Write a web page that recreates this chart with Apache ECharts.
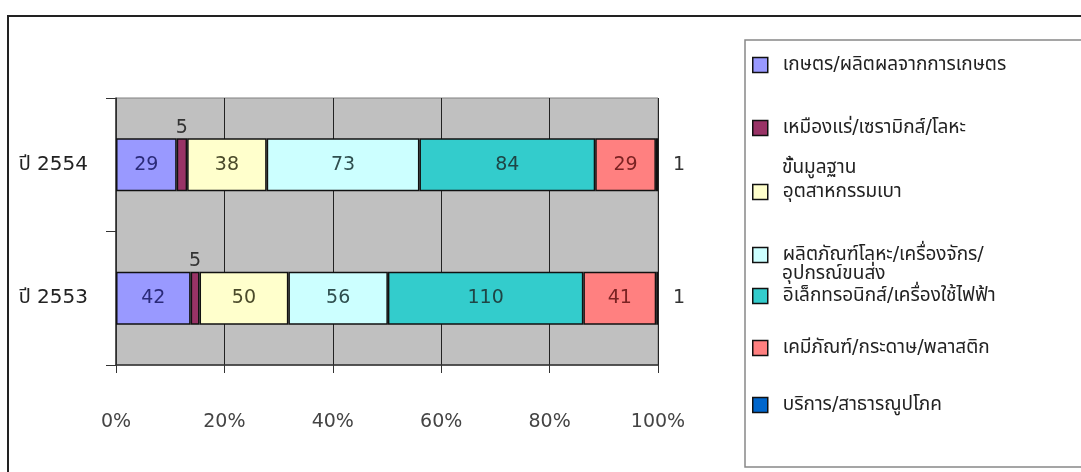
<!DOCTYPE html>
<html>
<head>
<meta charset="utf-8">
<script src="https://cdn.jsdelivr.net/npm/echarts@6/dist/echarts.min.js"></script>
<style>
html,body{margin:0;padding:0;background:#fff;}
#c{width:1081px;height:472px;}
</style>
</head>
<body>
<div id="c"></div>
<script>
var categories = ['ปี 2554', 'ปี 2553'];
var seriesNames = [
  'เกษตร/ผลิตผลจากการเกษตร',
  'เหมืองแร่/เซรามิกส์/โลหะขั้นมูลฐาน',
  'อุตสาหกรรมเบา',
  'ผลิตภัณฑ์โลหะ/เครื่องจักร/อุปกรณ์ขนส่ง',
  'อิเล็กทรอนิกส์/เครื่องใช้ไฟฟ้า',
  'เคมีภัณฑ์/กระดาษ/พลาสติก',
  'บริการ/สาธารณูปโภค'
];
var agriculture = [29, 42];
var mining = [5, 5];
var lightIndustry = [38, 50];
var metalMachinery = [73, 56];
var electronics = [84, 110];
var chemicals = [29, 41];
var services = [1, 1];
var xTickLabels = ['0%', '20%', '40%', '60%', '80%', '100%'];

var seriesValues = [agriculture, mining, lightIndustry, metalMachinery, electronics, chemicals, services];
var colors = ['#9999FF', '#993366', '#FFFFCC', '#CCFFFF', '#33CCCC', '#FF8080', '#0066CC'];
var labelColors = ['#2a2a78', '#333333', '#4a4a2a', '#2f4f4f', '#1f4545', '#7a2222', '#333333'];
var legendNames = [
  'เกษตร/ผลิตผลจากการเกษตร',
  'เหมืองแร่/เซรามิกส์/โลหะ',
  'อุตสาหกรรมเบา',
  'ผลิตภัณฑ์โลหะ/เครื่องจักร/',
  'อิเล็กทรอนิกส์/เครื่องใช้ไฟฟ้า',
  'เคมีภัณฑ์/กระดาษ/พลาสติก',
  'บริการ/สาธารณูปโภค'
];

var totals = categories.map(function (c, i) {
  return seriesValues.reduce(function (s, arr) { return s + arr[i]; }, 0);
});

var FONT = 'Tahoma, "DejaVu Sans", "Noto Sans Thai", "Noto Sans", sans-serif';

var series = seriesValues.map(function (arr, si) {
  var pos = 'inside', dist = 5;
  if (si === 1) { pos = 'top'; dist = 1; }
  if (si === 6) { pos = 'right'; dist = 15; }
  return {
    name: seriesNames[si],
    type: 'bar',
    stack: 'total',
    barWidth: 53,
    data: arr.map(function (v, i) { return v / totals[i] * 100; }),
    itemStyle: { color: colors[si], borderColor: '#111', borderWidth: 1.5 },
    label: {
      show: true,
      position: pos,
      distance: dist,
      fontFamily: FONT,
      fontSize: 19,
      color: labelColors[si],
      formatter: function (p) { return String(seriesValues[p.seriesIndex][p.dataIndex]); }
    },
    emphasis: { disabled: true }
  };
});

var legendCenters = [65, 128, 192, 255, 296, 348, 405];
var legends = legendNames.map(function (n, i) {
  return {
    data: [seriesNames[i]],
    left: 752,
    top: legendCenters[i] - 11,
    padding: 0,
    orient: 'vertical',
    icon: 'rect',
    itemWidth: 15,
    itemHeight: 15,
    itemStyle: { borderColor: '#111', borderWidth: 1.5 },
    selectedMode: false,
    formatter: function () { return legendNames[i]; },
    textStyle: { fontFamily: FONT, fontSize: 19, lineHeight: 22, color: '#222', padding: [0, 0, 0, 10] }
  };
});

var chart = echarts.init(document.getElementById('c'), null, { renderer: 'canvas' });
chart.setOption({
  animation: false,
  color: colors,
  graphic: [
    { type: 'rect', z: -10, shape: { x: 8, y: 16, width: 1200, height: 600 },
      style: { fill: '#fff', stroke: '#222', lineWidth: 2 } },
    { type: 'rect', z: -5, shape: { x: 745, y: 40, width: 500, height: 427 },
      style: { fill: '#fff', stroke: '#888', lineWidth: 1.5 } },
    { type: 'text', left: 782, top: 159, style: { text: 'ขั้นมูลฐาน', font: '19px ' + FONT, fill: '#222' } },
    { type: 'text', left: 782, top: 265, style: { text: 'อุปกรณ์ขนส่ง', font: '19px ' + FONT, fill: '#222' } }
  ],
  legend: legends,
  grid: {
    left: 116, right: 423, top: 98, bottom: 107,
    show: true, backgroundColor: '#C0C0C0', borderColor: '#808080', borderWidth: 1
  },
  xAxis: {
    type: 'value', min: 0, max: 100, interval: 20,
    axisLine: { show: true, lineStyle: { color: '#333', width: 1.5 } },
    axisTick: { show: true, length: 8, lineStyle: { color: '#333' } },
    splitLine: { show: true, lineStyle: { color: '#222', width: 1 } },
    axisLabel: {
      margin: 48, fontFamily: FONT, fontSize: 19, color: '#444',
      formatter: function (v) { return xTickLabels[Math.round(v / 20)]; }
    }
  },
  yAxis: {
    type: 'category', data: categories, inverse: true,
    axisLine: { show: true, lineStyle: { color: '#333', width: 1.5 } },
    axisTick: { show: true, length: 10, lineStyle: { color: '#333' } },
    axisLabel: { margin: 28, fontFamily: FONT, fontSize: 20, color: '#222' },
    splitLine: { show: false }
  },
  series: series
});
</script>
</body>
</html>
